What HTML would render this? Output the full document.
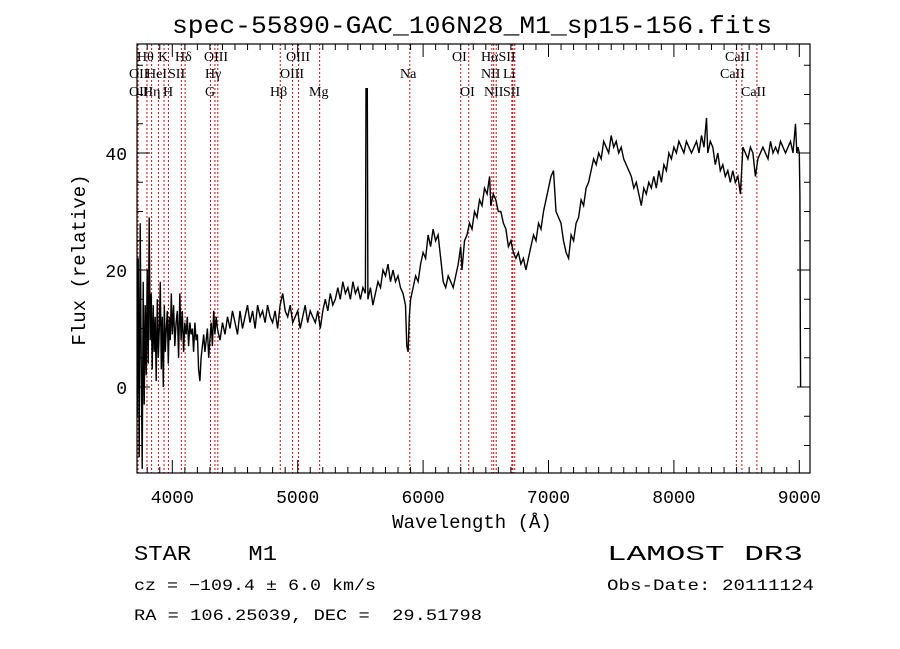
<!DOCTYPE html>
<html><head><meta charset="utf-8"><style>
html,body{margin:0;padding:0;background:#fff;}
svg{display:block;}
svg text{white-space:pre;}
</style></head><body>
<svg id="chart" width="900" height="649" viewBox="0 0 900 649" xmlns="http://www.w3.org/2000/svg">
<rect x="0" y="0" width="900" height="649" fill="#fff"/>
<text x="472" y="33" text-anchor="middle" font-family="Liberation Mono, monospace" font-size="25" textLength="600" lengthAdjust="spacingAndGlyphs">spec-55890-GAC_106N28_M1_sp15-156.fits</text>
<g id="lines"></g>
<g id="labels" font-family="Liberation Serif, serif" font-size="14"></g>
<path id="spec" fill="none" stroke="#000" stroke-width="1.4" stroke-linejoin="miter"/>
<g id="axes"></g>
<text x="472" y="528" text-anchor="middle" font-family="Liberation Mono, monospace" font-size="19">Wavelength (Å)</text>
<text transform="translate(85,260) rotate(-90)" text-anchor="middle" font-family="Liberation Mono, monospace" font-size="19">Flux (relative)</text>
<g font-family="Liberation Mono, monospace">
<text x="134" y="560" font-size="21" xml:space="preserve" textLength="143" lengthAdjust="spacingAndGlyphs">STAR    M1</text>
<text x="607" y="560" font-size="21" textLength="196" lengthAdjust="spacingAndGlyphs">LAMOST DR3</text>
<text x="134" y="590" font-size="16" textLength="242" lengthAdjust="spacingAndGlyphs">cz = −109.4 ± 6.0 km/s</text>
<text x="607" y="590" font-size="16" textLength="207" lengthAdjust="spacingAndGlyphs">Obs-Date: 20111124</text>
<text x="134" y="620" font-size="16" xml:space="preserve" textLength="348" lengthAdjust="spacingAndGlyphs">RA = 106.25039, DEC =  29.51798</text>
</g>
</svg>
<script>
const wavelengths = [3720,3728,3736,3744,3752,3760,3768,3776,3784,3792,3800,3808,3816,3824,3832,3840,3848,3856,3864,3872,3880,3888,3896,3904,3912,3920,3928,3936,3944,3952,3960,3968,3976,3984,3992,4000,4010,4020,4030,4040,4050,4060,4070,4080,4090,4100,4110,4120,4130,4140,4150,4160,4170,4180,4190,4200,4210,4220,4230,4240,4250,4260,4270,4280,4290,4300,4310,4320,4330,4340,4350,4360,4380,4400,4420,4440,4460,4480,4500,4520,4540,4560,4580,4600,4620,4640,4660,4680,4700,4720,4740,4760,4780,4800,4820,4840,4860,4880,4900,4920,4940,4960,4980,5000,5020,5040,5060,5080,5100,5120,5140,5160,5180,5200,5220,5240,5260,5280,5300,5320,5340,5360,5380,5400,5420,5440,5460,5480,5500,5520,5540,5545,5555,5560,5580,5600,5620,5640,5660,5680,5700,5720,5740,5760,5780,5800,5820,5840,5860,5870,5880,5890,5900,5920,5940,5960,5980,6000,6020,6040,6060,6080,6100,6120,6140,6160,6180,6200,6220,6240,6260,6280,6300,6310,6330,6350,6370,6390,6410,6430,6450,6470,6490,6510,6530,6540,6560,6580,6600,6620,6640,6660,6680,6700,6720,6740,6760,6780,6800,6820,6840,6860,6880,6900,6920,6940,6960,6980,7000,7020,7040,7060,7080,7100,7120,7140,7160,7180,7200,7220,7240,7260,7280,7300,7320,7340,7360,7380,7400,7420,7440,7460,7480,7500,7520,7540,7560,7580,7600,7620,7640,7660,7680,7700,7720,7740,7760,7780,7800,7820,7840,7860,7880,7900,7920,7940,7960,7980,8000,8020,8040,8060,8080,8100,8120,8140,8160,8180,8200,8220,8240,8260,8270,8290,8310,8330,8350,8370,8390,8410,8430,8450,8470,8490,8510,8530,8550,8570,8590,8610,8630,8650,8670,8690,8710,8730,8750,8770,8790,8810,8830,8850,8870,8890,8910,8930,8950,8970,8980,8990,9000,9005,9008,9010];
const fluxValues = [-5,22,-12,28,5,-14,18,-3,14,2,20,4,29,8,16,3,14,6,12,1,15,5,10,18,3,12,0,14,6,10,13,4,12,8,16,9,14,7,11,13,5,16,8,13,6,11,9,12,7,11,9,10,6,11,8,9,3,1,5,7,9,6,8,10,5,8,11,7,13,9,12,10,8,11,9,12,10,13,11,9,13,10,12,14,11,13,10,14,12,13,11,14,12,11,13,10,14,16,13,12,14,11,12,13,10,12,14,11,13,12,11,13,10,13,15,13,16,14,15,17,15,18,16,17,15,18,16,17,15,17,16,51,51,15,17,14,16,18,17,20,19,21,18,20,18,19,17,16,14,7,6,12,15,17,19,18,21,23,22,26,24,27,25,26,22,18,17,19,18,17,19,21,24,20,25,26,28,27,30,29,32,31,34,33,36,31,33,32,30,30,28,27,24,25,23,22,23,21,22,20,22,24,26,25,28,27,30,32,34,36,37,30,29,28,25,23,22,26,25,28,29,32,31,34,35,37,39,38,40,39,42,41,40,43,41,42,40,41,39,38,37,36,34,35,33,31,34,33,35,34,36,34,37,35,38,37,40,39,41,40,42,41,40,42,41,40,41,42,40,43,41,46,40,42,41,38,40,37,38,36,37,35,37,35,36,33,41,40,39,41,40,36,39,40,41,40,39,42,40,41,40,42,41,40,41,42,40,45,40,41,40,33,10,0];
const lineWavelengths = [3727,3798,3835,3889,3934,3969,4072,4102,4304,4340,4363,4861,4959,5007,5175,5894,6300,6364,6548,6563,6583,6708,6716,6731,8498,8542,8662];
const xTickValues = [4000,5000,6000,7000,8000,9000];
const yTickValues = [0,20,40];
const lineLabels = [
 ["Hθ",137,61],["K",158,61],["Hδ",175,61],["OIII",204,61],["OIII",286,61],["OI",452,61],["HαSII",481,61],["CaII",725,61],
 ["OII",129,78],["HeI",146,78],["SII",168,78],["Hγ",205,78],["OIII",280,78],["Na",400,78],["NII",481,78],["Li",503,78],["CaII",720,78],
 ["OII",129,96],["Hη",143,96],["H",163,96],["G",205,96],["Hβ",270,96],["Mg",309,96],["OI",460,96],["NII",484,96],["SII",503,96],["CaII",741,96]
];

const L=137,R=810,T=44,B=473;
const xs = w => 172.3 + (w-4000)*0.1254;
const ys = f => 387 - f*5.85;
const NS="http://www.w3.org/2000/svg";
function mk(tag, attrs, parent){const e=document.createElementNS(NS,tag);for(const k in attrs)e.setAttribute(k,attrs[k]);parent.appendChild(e);return e;}

const lg=document.getElementById('lines');
lineWavelengths.forEach(w=>{
 const l=mk('line',{x1:xs(w),x2:xs(w),y1:T,y2:B,stroke:'#c01010','stroke-width':1,'stroke-dasharray':'2,2'},lg);
 
 
});
const lb=document.getElementById('labels');
lineLabels.forEach(a=>{
 const t=mk('text',{x:a[1],y:a[2]},lb);t.textContent=a[0];
 
 
});

let d='';
wavelengths.forEach((w,i)=>{d+=(i?'L':'M')+xs(w).toFixed(1)+','+ys(fluxValues[i]).toFixed(1);});
document.getElementById('spec').setAttribute('d',d);

const ax=document.getElementById('axes');
const fr=mk('rect',{x:L,y:T,width:R-L,height:B-T,fill:'none',stroke:'#000','stroke-width':1.2},ax);


for(let w=3800;w<=9000;w+=100){
 const x=xs(w);const maj=(w%1000===0);const len=maj?13:6;
 mk('line',{x1:x,x2:x,y1:B,y2:B-len,stroke:'#000','stroke-width':1},ax);
 mk('line',{x1:x,x2:x,y1:T,y2:T+len,stroke:'#000','stroke-width':1},ax);
}
for(let f=-10;f<=55;f+=5){
 const y=ys(f);const maj=(f%20===0);const len=maj?13:6;
 mk('line',{x1:L,x2:L+len,y1:y,y2:y,stroke:'#000','stroke-width':1},ax);
 mk('line',{x1:R,x2:R-len,y1:y,y2:y,stroke:'#000','stroke-width':1},ax);
}
xTickValues.forEach(v=>{
 const t=mk('text',{x:xs(v),y:503,'text-anchor':'middle','font-family':'Liberation Mono, monospace','font-size':18},ax);
 t.textContent=v;
 
 
});
yTickValues.forEach(v=>{
 const t=mk('text',{x:127,y:ys(v)+7,'text-anchor':'end','font-family':'Liberation Mono, monospace','font-size':18},ax);
 t.textContent=v;
 
 
});
</script>
</body></html>
